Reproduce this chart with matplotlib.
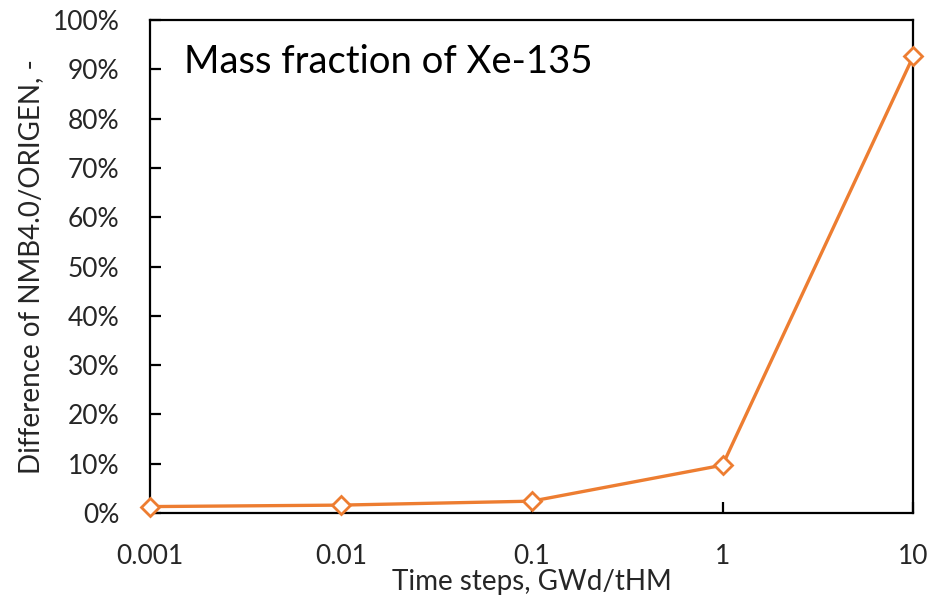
import matplotlib
matplotlib.use('Agg')
import matplotlib.pyplot as plt
from matplotlib.ticker import PercentFormatter, FixedLocator, FixedFormatter, NullLocator

# data
time_steps = [0.001, 0.01, 0.1, 1, 10]
difference = [1.3, 1.6, 2.4, 9.7, 92.7]   # percent
x_tick_labels = ['0.001', '0.01', '0.1', '1', '10']

plt.rcParams['font.family'] = ['Lato', 'DejaVu Sans']
orange = '#ED7D31'

fig = plt.figure(figsize=(9.32, 5.97), dpi=100)
ax = fig.add_axes([0.161, 0.1407, 0.819, 0.8258])

ax.plot(time_steps, difference, color=orange, lw=2.4, marker='D',
        markersize=9.5, markerfacecolor='white', markeredgecolor=orange,
        markeredgewidth=2, clip_on=False, zorder=3)

ax.set_xscale('log')
ax.set_xlim(0.001, 10)
ax.set_ylim(0, 100)
ax.xaxis.set_major_locator(FixedLocator(time_steps))
ax.xaxis.set_major_formatter(FixedFormatter(x_tick_labels))
ax.xaxis.set_minor_locator(NullLocator())
ax.set_yticks(range(0, 101, 10))
ax.yaxis.set_major_formatter(PercentFormatter(decimals=0))

for s in ax.spines.values():
    s.set_linewidth(1.6)
    s.set_color('black')

ax.tick_params(axis='both', direction='in', length=8, width=1.6,
               labelsize=19, colors='black', labelcolor='#262626')
ax.tick_params(axis='y', pad=22)
ax.tick_params(axis='x', pad=22)

ax.set_xlabel('Time steps, GWd/tHM', fontsize=20, labelpad=0, color='#262626')
ax.set_ylabel('Difference of NMB4.0/ORIGEN, -', fontsize=20, labelpad=6,
              color='#262626')

ax.text(0.045, 0.915, 'Mass fraction of Xe-135', transform=ax.transAxes,
        fontsize=27.5, ha='left', va='center')

fig.savefig('out.png', dpi=100)
